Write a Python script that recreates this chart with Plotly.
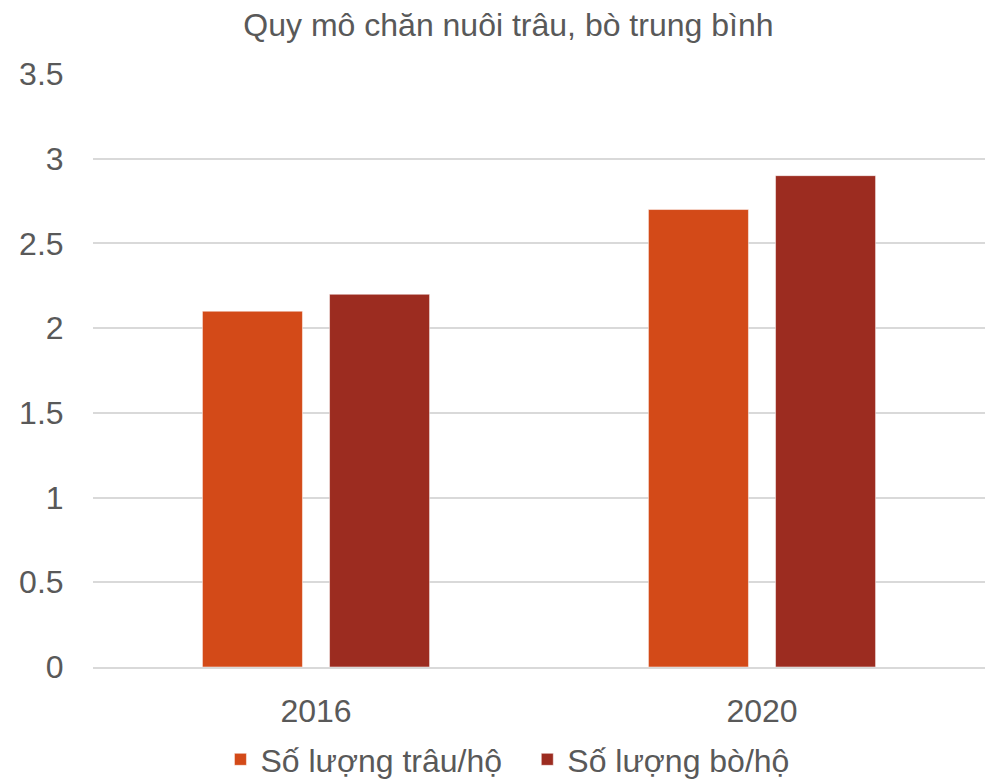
import plotly.graph_objects as go

# Average herd size per household
years = ["2016", "2020"]
buffalo_per_household = [2.1, 2.7]
cattle_per_household = [2.2, 2.9]
series_names = ["Số lượng trâu/hộ", "Số lượng bò/hộ"]
series_colors = ["#D34A18", "#9C2C20"]
y_ticks = [0, 0.5, 1, 1.5, 2, 2.5, 3, 3.5]
y_tick_text = ["0", "0.5", "1", "1.5", "2", "2.5", "3", "3.5"]

FONT = "Liberation Sans, Arial, sans-serif"
TEXT_COLOR = "#595959"
SIZE = 32

fig = go.Figure()
legend_ids = ["legend", "legend2"]
for name, values, color, lg in zip(series_names,
                                   [buffalo_per_household, cattle_per_household],
                                   series_colors, legend_ids):
    fig.add_trace(go.Bar(
        x=years, y=values, name=name, legend=lg,
        marker=dict(color=color, line=dict(color="rgba(255,255,255,0.5)", width=1)),
    ))

legend_style = dict(orientation="h", xref="container", yref="container",
                    xanchor="left", yanchor="middle", y=0.025,
                    font=dict(family=FONT, size=SIZE, color=TEXT_COLOR),
                    bgcolor="rgba(0,0,0,0)")

fig.update_layout(
    width=993, height=779,
    margin=dict(l=93, r=8, t=74, b=112, autoexpand=False),
    paper_bgcolor="white", plot_bgcolor="white",
    barmode="group", bargap=0.43, bargroupgap=0.213,
    title=dict(text="Quy mô chăn nuôi trâu, bò trung bình",
               x=0.512, xanchor="center", y=0.968, yanchor="middle",
               font=dict(family=FONT, size=SIZE, color=TEXT_COLOR)),
    font=dict(family=FONT, size=SIZE, color=TEXT_COLOR),
    showlegend=True,
    legend=dict(x=0.222, **legend_style),
    legend2=dict(x=0.531, **legend_style),
    xaxis=dict(showgrid=False, showline=True, linecolor="#D9D9D9", linewidth=1.5,
               ticks="outside", ticklen=15, tickcolor="rgba(0,0,0,0)",
               tickfont=dict(family=FONT, size=SIZE, color=TEXT_COLOR)),
    yaxis=dict(range=[0, 3.5], tickvals=y_ticks, ticktext=y_tick_text,
               showgrid=True, gridcolor="#D9D9D9", gridwidth=1.5,
               zeroline=False, showline=False,
               ticks="outside", ticklen=22, tickcolor="rgba(0,0,0,0)",
               tickfont=dict(family=FONT, size=SIZE, color=TEXT_COLOR)),
)

fig.write_html("out.html")
